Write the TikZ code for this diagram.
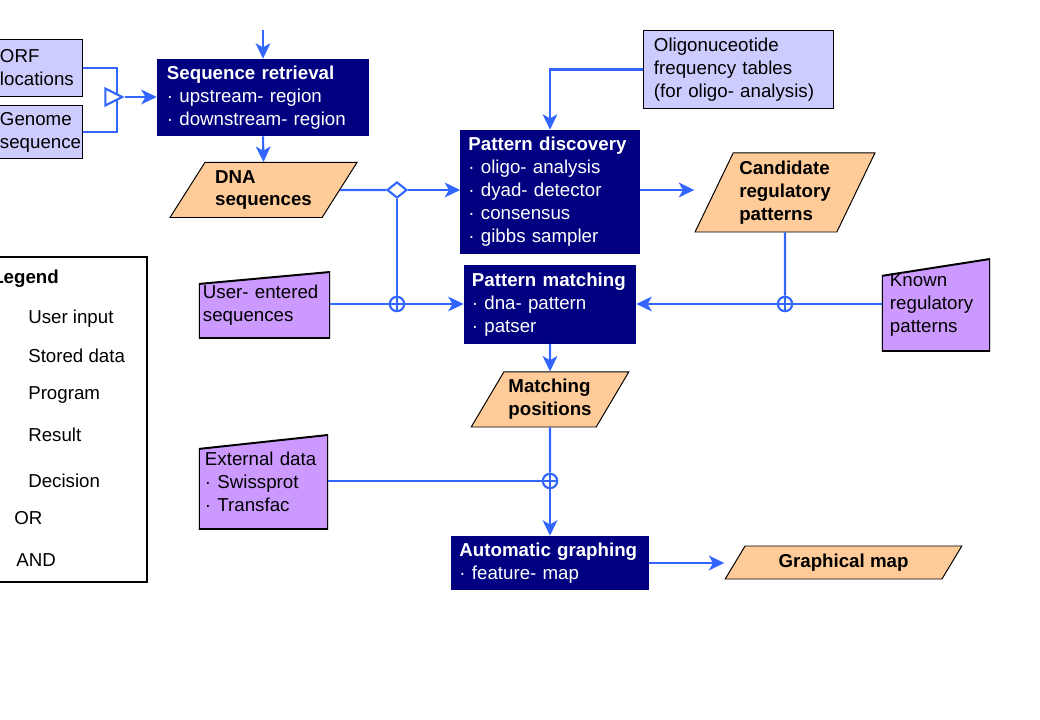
\documentclass[tikz,border=0pt]{standalone}
\usepackage{fontspec}
\setmainfont{Liberation Sans}
\usepackage{xcolor}
\usepackage{tikz}
\usetikzlibrary{arrows.meta,positioning,calc,shapes.geometric}
\definecolor{progc}{RGB}{0,0,128}
\definecolor{storec}{RGB}{204,204,255}
\definecolor{userc}{RGB}{204,153,255}
\definecolor{resc}{RGB}{255,204,153}
\definecolor{flowc}{RGB}{51,102,255}
\begin{document}
\begin{tikzpicture}[x=0.025cm,y=-0.025cm,>={Stealth[length=11pt,width=10.5pt,inset=3pt]},
  font=\fontsize{13.3}{16.3}\selectfont,
  box/.style={rectangle,align=left,inner xsep=0pt,inner ysep=0pt},
  prog/.style={box,fill=progc,text=white},
  stored/.style={box,draw=black,line width=0.7pt,fill=storec},
  userin/.style={box,path picture={\filldraw[draw=black,line width=1.4pt,fill=userc]
      (path picture bounding box.south west) -- ([yshift=-#1]path picture bounding box.north west)
      -- (path picture bounding box.north east) -- (path picture bounding box.south east) -- cycle;}},
  result/.style={trapezium,trapezium stretches=true,draw=black,line width=0.7pt,fill=resc,
      align=left,inner sep=0pt,font=\fontsize{13.3}{16.3}\selectfont\bfseries},
  flow/.style={draw=flowc,line width=1.5pt},
  orsym/.style={diamond,flow,fill=white,minimum width=0.5cm,minimum height=0.4cm,inner sep=0pt},
  andsym/.style={isosceles triangle,isosceles triangle stretches,flow,fill=white,
      minimum width=0.42cm,minimum height=0.42cm,inner sep=0pt},
  mixsym/.style={circle,flow,fill=white,minimum size=0.36cm,inner sep=0pt,
      path picture={\draw[flowc,line width=1.5pt] (path picture bounding box.north) -- (path picture bounding box.south)
        (path picture bounding box.west) -- (path picture bounding box.east);}},
  lgtext/.style={anchor=west,inner xsep=0pt}]
\clip (0,0) rectangle (1040,720);
% ---- inputs on the left ----
\node[stored,minimum width=2.35cm,minimum height=1.4cm,text width=1.75cm] (orf) at (35,68) {ORF\\locations};
\node[stored,minimum width=2.35cm,minimum height=1.3cm,text width=1.75cm] (genome) at (35,132) {Genome\\sequence};
\node[prog,minimum width=5.3cm,minimum height=1.925cm,text width=4.8cm] (seq) at (263,97.5)
  {\textbf{Sequence retrieval}\\· upstream- region\\· downstream- region};
\coordinate (seqin) at (263,30);
\coordinate (andj) at (117,97);
\draw[flow] (orf.east) -| (andj);
\draw[flow] (genome.east) -| (andj);
\node[andsym,anchor=apex] (andg) at (125,97) {};
\draw[flow,->] (andg.apex) -- (andg.apex -| seq.west);
\draw[flow,->] (seqin) -- (seq.north);
\node[result,trapezium left angle=54,trapezium right angle=126,minimum width=4.675cm,minimum height=1.375cm]
  (dna) at (263.5,190) {DNA\\sequences};
\draw[flow,->] (seq.south) -- (dna.north);
% ---- discovery and matching ----
\node[stored,minimum width=4.725cm,minimum height=1.925cm,text width=4.225cm] (oligo) at (738.5,69.5)
  {Oligonuceotide\\frequency tables\\(for oligo- analysis)};
\node[prog,minimum width=4.475cm,minimum height=3.1cm,text width=4.075cm] (patdisc) at (550,192)
  {\textbf{Pattern discovery}\\· oligo- analysis\\· dyad- detector\\· consensus\\· gibbs sampler};
\node[prog,minimum width=4.3cm,minimum height=1.95cm,text width=3.9cm] (patmatch) at (550,304.5)
  {\textbf{Pattern matching}\\· dna- pattern\\· patser};
\node[userin=8.5pt,minimum width=3.275cm,minimum height=1.65cm,text width=3.075cm] (user) at (264.5,305)
  {User- entered\\sequences};
\node[userin=12pt,minimum width=2.7cm,minimum height=2.3cm,text width=2.3cm] (known) at (936,305)
  {Known\\regulatory\\patterns};
\node[result,trapezium left angle=62,trapezium right angle=118,minimum width=4.5cm,minimum height=1.975cm]
  (cand) at (785,192.5) {Candidate\\regulatory\\patterns};
\node[orsym] (orj) at (397,190) {};
\node[mixsym] (mix1) at (397,304) {};
\node[mixsym] (mix2) at (785,304) {};
\draw[flow] (dna.east) -- (orj.west);
\draw[flow,->] (orj.east) -- (orj.east -| patdisc.west);
\draw[flow] (orj.south) -- (mix1.north);
\draw[flow] (mix1.west -| user.east) -- (mix1.west);
\draw[flow,->] (mix1.east) -- (mix1.east -| patmatch.west);
\draw[flow,->] (oligo.west) -| (patdisc.north);
\draw[flow,->] (orj.east -| patdisc.east) -- (orj.east -| cand.bottom left corner);
\draw[flow] (cand.south) -- (mix2.north);
\draw[flow] (mix2.east -| known.west) -- (mix2.east);
\draw[flow,->] (mix2.west) -- (mix2.west -| patmatch.east);
% ---- results and graphing ----
\node[result,trapezium left angle=54,trapezium right angle=126,minimum width=3.95cm,minimum height=1.375cm]
  (match) at (550,399.5) {Matching\\positions};
\node[userin=9.9pt,minimum width=3.225cm,minimum height=2.35cm,text width=2.925cm] (ext) at (263.5,482)
  {External data\\· Swissprot\\· Transfac};
\node[mixsym] (mix3) at (550,481) {};
\node[prog,minimum width=4.925cm,minimum height=1.35cm,text width=4.525cm] (autog) at (550,563)
  {\textbf{Automatic graphing}\\· feature- map};
\node[result,trapezium left angle=53,trapezium right angle=127,minimum width=5.925cm,minimum height=0.825cm]
  (gmap) at (843.5,562.5) {Graphical map};
\draw[flow,->] (patmatch.south) -- (match.north);
\draw[flow] (match.south) -- (mix3.north);
\draw[flow] (mix3.west -| ext.east) -- (mix3.west);
\draw[flow,->] (mix3.south) -- (autog.north);
\draw[flow,->] (autog.east) -- (autog.east -| gmap.bottom left corner);
% ---- legend ----
\node[draw=black,line width=1.4pt,minimum width=4.175cm,minimum height=8.125cm] (legend) at (63.5,419.5) {};
\node[lgtext,font=\fontsize{13.3}{16.3}\selectfont\bfseries] (lgtitle) at (-8,279) {Legend};
\foreach \y/\lab in {319/User input,356/Stored data,395/Program,435/Result,481/Decision}
  \node[lgtext] (lg\y) at (28,\y) {\lab};
\node[lgtext] (lgor) at (14,518) {OR};
\node[lgtext] (lgand) at (16,560) {AND};
\end{tikzpicture}
\end{document}
